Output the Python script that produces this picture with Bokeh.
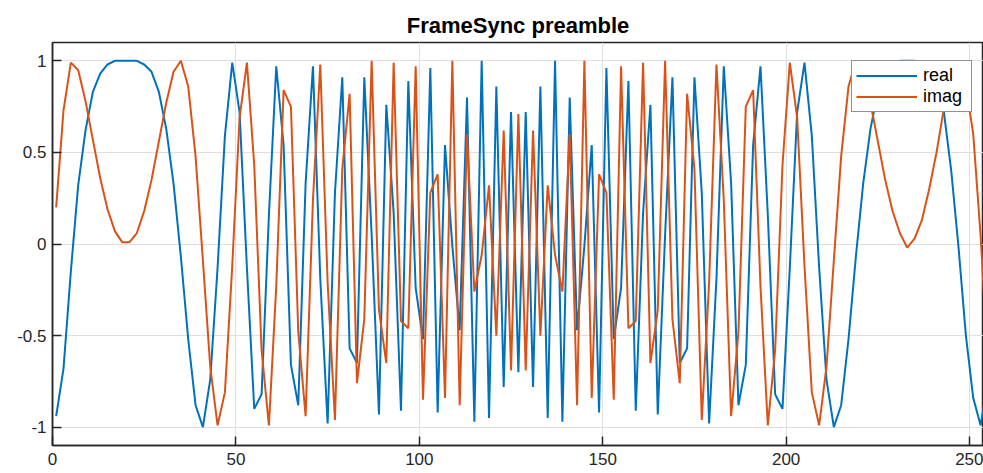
from bokeh.plotting import figure
from bokeh.models import Range1d, FixedTicker, Legend, LegendItem, ColumnDataSource
from bokeh.embed import file_html
from bokeh.resources import INLINE

title_text = "FrameSync preamble"
series_names = ["real", "imag"]
x_ticks = [0, 50, 100, 150, 200, 250]
y_ticks = [-1, -0.5, 0, 0.5, 1]
y_tick_labels = ["-1", "-0.5", "0", "0.5", "1"]

real_part = [-0.94, -0.68, -0.15, 0.32, 0.62, 0.83, 0.93, 0.98, 1.00, 1.00, 1.00, 1.00, 0.98, 0.94, 0.83, 0.63,
             0.33, -0.07, -0.52, -0.88, -1.00, -0.74, -0.13, 0.59, 0.99, 0.72, -0.13, -0.90, -0.82, 0.16, 0.97, 0.54,
             -0.66, -0.88, 0.33, 0.97, -0.19, -0.98, 0.28, 0.91, -0.57, -0.65, 0.91, 0.05, -0.93, 0.76, 0.17, -0.91,
             0.89, -0.24, -0.52, 0.96, -0.92, 0.54, -0.01, -0.47, 0.80, -0.97, 1.00, -0.95, 0.86, -0.78, 0.72, -0.70,
             0.72, -0.78, 0.86, -0.95, 1.00, -0.97, 0.80, -0.47, -0.01, 0.54, -0.92, 0.96, -0.52, -0.24, 0.89, -0.91,
             0.17, 0.76, -0.93, 0.05, 0.91, -0.65, -0.57, 0.91, 0.28, -0.98, -0.19, 0.97, 0.33, -0.88, -0.66, 0.54,
             0.97, 0.16, -0.82, -0.90, -0.13, 0.72, 0.99, 0.59, -0.13, -0.74, -1.00, -0.88, -0.52, -0.07, 0.33, 0.63,
             0.83, 0.94, 0.98, 1.00, 1.00, 1.00, 0.99, 0.95, 0.88, 0.72, 0.40, -0.02, -0.50, -0.84, -0.99, -0.75]

imag_part = [0.20, 0.73, 0.99, 0.95, 0.78, 0.57, 0.36, 0.19, 0.07, 0.01, 0.01, 0.06, 0.18, 0.35, 0.56, 0.77,
             0.94, 1.00, 0.86, 0.48, -0.09, -0.67, -0.99, -0.81, -0.12, 0.69, 0.99, 0.43, -0.58, -0.99, -0.23, 0.84,
             0.75, -0.48, -0.94, 0.24, 0.98, -0.21, -0.96, 0.41, 0.82, -0.76, -0.41, 1.00, -0.36, -0.65, 0.99, -0.42,
             -0.46, 0.97, -0.85, 0.28, 0.38, -0.84, 1.00, -0.88, 0.60, -0.26, -0.06, 0.32, -0.50, 0.62, -0.69, 0.71,
             -0.69, 0.62, -0.50, 0.32, -0.06, -0.26, 0.60, -0.88, 1.00, -0.84, 0.38, 0.28, -0.85, 0.97, -0.46, -0.42,
             0.99, -0.65, -0.36, 1.00, -0.41, -0.76, 0.82, 0.41, -0.96, -0.21, 0.98, 0.24, -0.94, -0.48, 0.75, 0.84,
             -0.23, -0.99, -0.58, 0.43, 0.99, 0.69, -0.12, -0.81, -0.99, -0.67, -0.09, 0.48, 0.86, 1.00, 0.94, 0.77,
             0.56, 0.35, 0.18, 0.06, -0.02, 0.03, 0.13, 0.30, 0.50, 0.74, 0.92, 1.00, 0.87, 0.60, 0.05, -0.66]

sample_x = list(range(1, 2 * len(real_part), 2))

src = ColumnDataSource(data=dict(x=sample_x, re=real_part, im=imag_part))

FONT = "Liberation Sans"
DARK = "#262626"
BLUE = "#0072BD"
ORANGE = "#D95319"

p = figure(width=983, height=473, output_backend="svg", toolbar_location=None,
           x_range=Range1d(0, 253.8), y_range=Range1d(-1.1, 1.1),
           min_border_left=52, min_border_right=0, min_border_top=42, min_border_bottom=28)

p.title.text = title_text
p.title.align = "center"
p.title.text_font = FONT
p.title.text_font_size = "22px"
p.title.text_font_style = "bold"
p.title.text_color = "#000000"
p.title.offset = 0

l1 = p.line("x", "re", source=src, line_color=BLUE, line_width=2)
l2 = p.line("x", "im", source=src, line_color=ORANGE, line_width=2)

p.outline_line_color = DARK
p.outline_line_width = 1.5
p.outline_line_alpha = 1.0

for ax in (p.xaxis, p.yaxis):
    ax.axis_line_color = DARK
    ax.axis_line_width = 1.5
    ax.major_tick_line_color = DARK
    ax.major_tick_line_width = 1.5
    ax.major_tick_in = 9
    ax.major_tick_out = 0
    ax.minor_tick_line_color = None
    ax.major_label_text_font = FONT
    ax.major_label_text_font_size = "17px"
    ax.major_label_text_color = DARK

p.xaxis.ticker = FixedTicker(ticks=x_ticks)
p.yaxis.ticker = FixedTicker(ticks=y_ticks)
p.yaxis.major_label_overrides = {t: s for t, s in zip(y_ticks, y_tick_labels)}
p.xaxis.major_label_standoff = 7
p.yaxis.major_label_standoff = 6

p.xgrid.ticker = FixedTicker(ticks=x_ticks)
p.ygrid.ticker = FixedTicker(ticks=y_ticks)
for g in (p.xgrid, p.ygrid):
    g.grid_line_color = "#dfdfdf"
    g.grid_line_width = 1

legend = Legend(items=[LegendItem(label=series_names[0], renderers=[l1]),
                       LegendItem(label=series_names[1], renderers=[l2])],
                location=(799, 333))
legend.label_text_font = FONT
legend.label_text_font_size = "18px"
legend.label_text_color = "#000000"
legend.border_line_color = DARK
legend.border_line_width = 1
legend.background_fill_color = "white"
legend.background_fill_alpha = 1.0
legend.glyph_width = 61
legend.glyph_height = 21
legend.label_height = 21
legend.label_width = 44
legend.label_standoff = 6
legend.padding = 4
legend.spacing = 0
legend.margin = 0
p.add_layout(legend, "center")

p.background_fill_color = "white"
p.border_fill_color = "white"

open("out.html", "w").write(file_html(p, INLINE))
